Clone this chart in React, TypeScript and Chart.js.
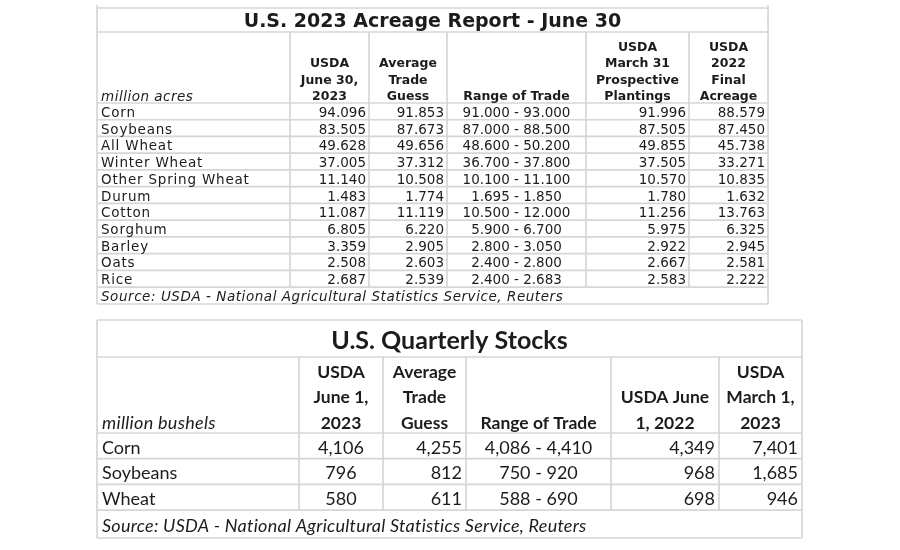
import React, { useEffect, useRef } from 'react';
import { Chart, registerables } from 'chart.js';

Chart.register(...registerables);

// ---------- Table 1: acreage ----------
const acreTitle = 'U.S. 2023 Acreage Report - June 30';
const acreUnit = 'million acres';
const acreHeaders = [
  ['USDA', 'June 30,', '2023'],
  ['Average', 'Trade', 'Guess'],
  ['Range of Trade'],
  ['USDA', 'March 31', 'Prospective', 'Plantings'],
  ['USDA', '2022', 'Final', 'Acreage'],
];
const acreCrops = ['Corn', 'Soybeans', 'All Wheat', 'Winter Wheat', 'Other Spring Wheat', 'Durum', 'Cotton', 'Sorghum', 'Barley', 'Oats', 'Rice'];
const acreJune30 = [94.096, 83.505, 49.628, 37.005, 11.14, 1.483, 11.087, 6.805, 3.359, 2.508, 2.687];
const acreAvgGuess = [91.853, 87.673, 49.656, 37.312, 10.508, 1.774, 11.119, 6.22, 2.905, 2.603, 2.539];
const acreRangeLow = [91.0, 87.0, 48.6, 36.7, 10.1, 1.695, 10.5, 5.9, 2.8, 2.4, 2.4];
const acreRangeHigh = [93.0, 88.5, 50.2, 37.8, 11.1, 1.85, 12.0, 6.7, 3.05, 2.8, 2.683];
const acreMarch31 = [91.996, 87.505, 49.855, 37.505, 10.57, 1.78, 11.256, 5.975, 2.922, 2.667, 2.583];
const acreFinal2022 = [88.579, 87.45, 45.738, 33.271, 10.835, 1.632, 13.763, 6.325, 2.945, 2.581, 2.222];
const acreSource = 'Source: USDA - National Agricultural Statistics Service, Reuters';

// ---------- Table 2: quarterly stocks ----------
const stocksTitle = 'U.S. Quarterly Stocks';
const stocksUnit = 'million bushels';
const stocksHeaders = [
  ['USDA', 'June 1,', '2023'],
  ['Average', 'Trade', 'Guess'],
  ['Range of Trade'],
  ['USDA June', '1, 2022'],
  ['USDA', 'March 1,', '2023'],
];
const stocksCrops = ['Corn', 'Soybeans', 'Wheat'];
const stocksJune2023 = [4106, 796, 580];
const stocksAvgGuess = [4255, 812, 611];
const stocksRangeLow = [4086, 750, 588];
const stocksRangeHigh = [4410, 920, 690];
const stocksJune2022 = [4349, 968, 698];
const stocksMarch2023 = [7401, 1685, 946];
const stocksSource = 'Source: USDA - National Agricultural Statistics Service, Reuters';

const f3 = (v: number) => v.toFixed(3);
const fc = (v: number) => v.toLocaleString('en-US');

const acreCells = acreCrops.map((_, i) => [
  f3(acreJune30[i]),
  f3(acreAvgGuess[i]),
  `${f3(acreRangeLow[i])} - ${f3(acreRangeHigh[i])}`,
  f3(acreMarch31[i]),
  f3(acreFinal2022[i]),
]);
const stocksCells = stocksCrops.map((_, i) => [
  fc(stocksJune2023[i]),
  fc(stocksAvgGuess[i]),
  `${fc(stocksRangeLow[i])} - ${fc(stocksRangeHigh[i])}`,
  fc(stocksJune2022[i]),
  fc(stocksMarch2023[i]),
]);

// ---------- layout / style (grid units on the chart's linear scales) ----------
const acreTable = {
  title: acreTitle, unit: acreUnit, headers: acreHeaders, labels: acreCrops, cells: acreCells, source: acreSource,
  cols: [97, 290, 369, 447, 586, 689, 768],
  frameTop: 5, top: 8, titleBottom: 32, headerBottom: 103, rowH: 16.73, sourceBottom: 304,
  aligns: ['right', 'right', 'center', 'right', 'right'],
  pad: 3, labelX: 101,
  titleFont: 'bold 19px "DejaVu Sans"', titleDy: 2,
  headFont: 'bold 12.5px "DejaVu Sans"', headLine: 16.4, headDy: -6,
  bodyFont: '13.5px "DejaVu Sans"', bodyDy: 2, labelSpacing: '0.8px',
  unitFont: 'oblique 13.5px "DejaVu Sans"', unitSpacing: '0.5px',
  sourceFont: 'oblique 13.5px "DejaVu Sans"', sourceSpacing: '0.55px',
};
const stocksTable = {
  title: stocksTitle, unit: stocksUnit, headers: stocksHeaders, labels: stocksCrops, cells: stocksCells, source: stocksSource,
  cols: [97, 299, 383, 466, 611, 719, 802],
  frameTop: 320, top: 320, titleBottom: 357, headerBottom: 433, rowH: 25.7, sourceBottom: 538,
  aligns: ['center', 'right', 'center', 'right', 'right'],
  pad: 4, labelX: 102,
  titleFont: 'bold 25px Lato', titleDy: 2,
  headFont: 'bold 17.5px Lato', headLine: 25.8, headDy: -9.5,
  bodyFont: '18px Lato', bodyDy: 2, labelSpacing: '0px',
  unitFont: 'italic 18px Lato', unitSpacing: '0.3px',
  sourceFont: 'italic 18px Lato', sourceSpacing: '0.25px',
};

const LINE = '#d6d6d6';
const TEXT = '#1c1c1c';

function drawTable(ctx: CanvasRenderingContext2D, xs: any, ys: any, t: any) {
  const X = (v: number) => xs.getPixelForValue(v);
  const Y = (v: number) => ys.getPixelForValue(v);
  const n = t.cols.length;
  const left = t.cols[0];
  const right = t.cols[n - 1];
  const rowTop = (i: number) => t.headerBottom + i * t.rowH;
  const dataBottom = rowTop(t.labels.length);
  const c2: any = ctx;

  ctx.save();
  ctx.strokeStyle = LINE;
  ctx.lineWidth = 1.7;
  const hline = (v: number) => {
    ctx.beginPath();
    ctx.moveTo(X(left), Y(v));
    ctx.lineTo(X(right), Y(v));
    ctx.stroke();
  };
  const vline = (u: number, a: number, b: number) => {
    ctx.beginPath();
    ctx.moveTo(X(u), Y(a));
    ctx.lineTo(X(u), Y(b));
    ctx.stroke();
  };
  [t.top, t.titleBottom, t.headerBottom, dataBottom, t.sourceBottom].forEach(hline);
  for (let i = 1; i < t.labels.length; i++) hline(rowTop(i));
  vline(left, t.frameTop, t.sourceBottom);
  vline(right, t.frameTop, t.sourceBottom);
  for (let c = 1; c < n - 1; c++) vline(t.cols[c], t.titleBottom, dataBottom);

  ctx.fillStyle = TEXT;
  ctx.textBaseline = 'middle';

  // title
  ctx.font = t.titleFont;
  ctx.textAlign = 'center';
  ctx.fillText(t.title, (X(left) + X(right)) / 2, (Y(t.top) + Y(t.titleBottom)) / 2 + t.titleDy);

  // headers
  ctx.font = t.headFont;
  t.headers.forEach((lines: string[], c: number) => {
    const cx = (X(t.cols[c + 1]) + X(t.cols[c + 2])) / 2;
    lines.forEach((s, k) => {
      const yy = Y(t.headerBottom) + t.headDy - (lines.length - 1 - k) * t.headLine;
      ctx.fillText(s, cx, yy);
    });
  });
  ctx.font = t.unitFont;
  ctx.textAlign = 'left';
  c2.letterSpacing = t.unitSpacing;
  ctx.fillText(t.unit, X(t.labelX), Y(t.headerBottom) + t.headDy);
  c2.letterSpacing = '0px';

  // body
  ctx.font = t.bodyFont;
  t.labels.forEach((lab: string, i: number) => {
    const cy = (Y(rowTop(i)) + Y(rowTop(i + 1))) / 2 + t.bodyDy;
    ctx.textAlign = 'left';
    c2.letterSpacing = t.labelSpacing;
    ctx.fillText(lab, X(t.labelX), cy);
    c2.letterSpacing = '0px';
    t.cells[i].forEach((s: string, c: number) => {
      const a = t.aligns[c];
      const l = X(t.cols[c + 1]);
      const r = X(t.cols[c + 2]);
      ctx.textAlign = a;
      const xx = a === 'right' ? r - t.pad : a === 'left' ? l + t.pad : (l + r) / 2;
      ctx.fillText(s, xx, cy);
    });
  });

  // source
  ctx.font = t.sourceFont;
  ctx.textAlign = 'left';
  c2.letterSpacing = t.sourceSpacing;
  ctx.fillText(t.source, X(t.labelX), (Y(dataBottom) + Y(t.sourceBottom)) / 2 + t.bodyDy);
  c2.letterSpacing = '0px';
  ctx.restore();
}

const tablePlugin = {
  id: 'tables',
  afterDraw(chart: any) {
    const { ctx, scales } = chart;
    drawTable(ctx, scales.x, scales.y, acreTable);
    drawTable(ctx, scales.x, scales.y, stocksTable);
  },
};

export default function App() {
  const ref = useRef<HTMLCanvasElement | null>(null);
  useEffect(() => {
    if (!ref.current) return;
    const chart = new Chart(ref.current, {
      type: 'scatter',
      data: { datasets: [{ data: [], pointRadius: 0 }] },
      options: {
        animation: false,
        responsive: false,
        events: [],
        layout: { padding: 0 },
        plugins: { legend: { display: false }, tooltip: { enabled: false }, title: { display: false } },
        scales: {
          x: { type: 'linear', min: 0, max: 900, display: false },
          y: { type: 'linear', min: 0, max: 550, reverse: true, display: false },
        },
      },
      plugins: [tablePlugin],
    });
    return () => chart.destroy();
  }, []);
  return (
    <div style={{ position: 'fixed', left: 0, top: 0, width: 900, height: 550, background: '#fff' }}>
      <canvas ref={ref} width={900} height={550} style={{ display: 'block' }} />
    </div>
  );
}
